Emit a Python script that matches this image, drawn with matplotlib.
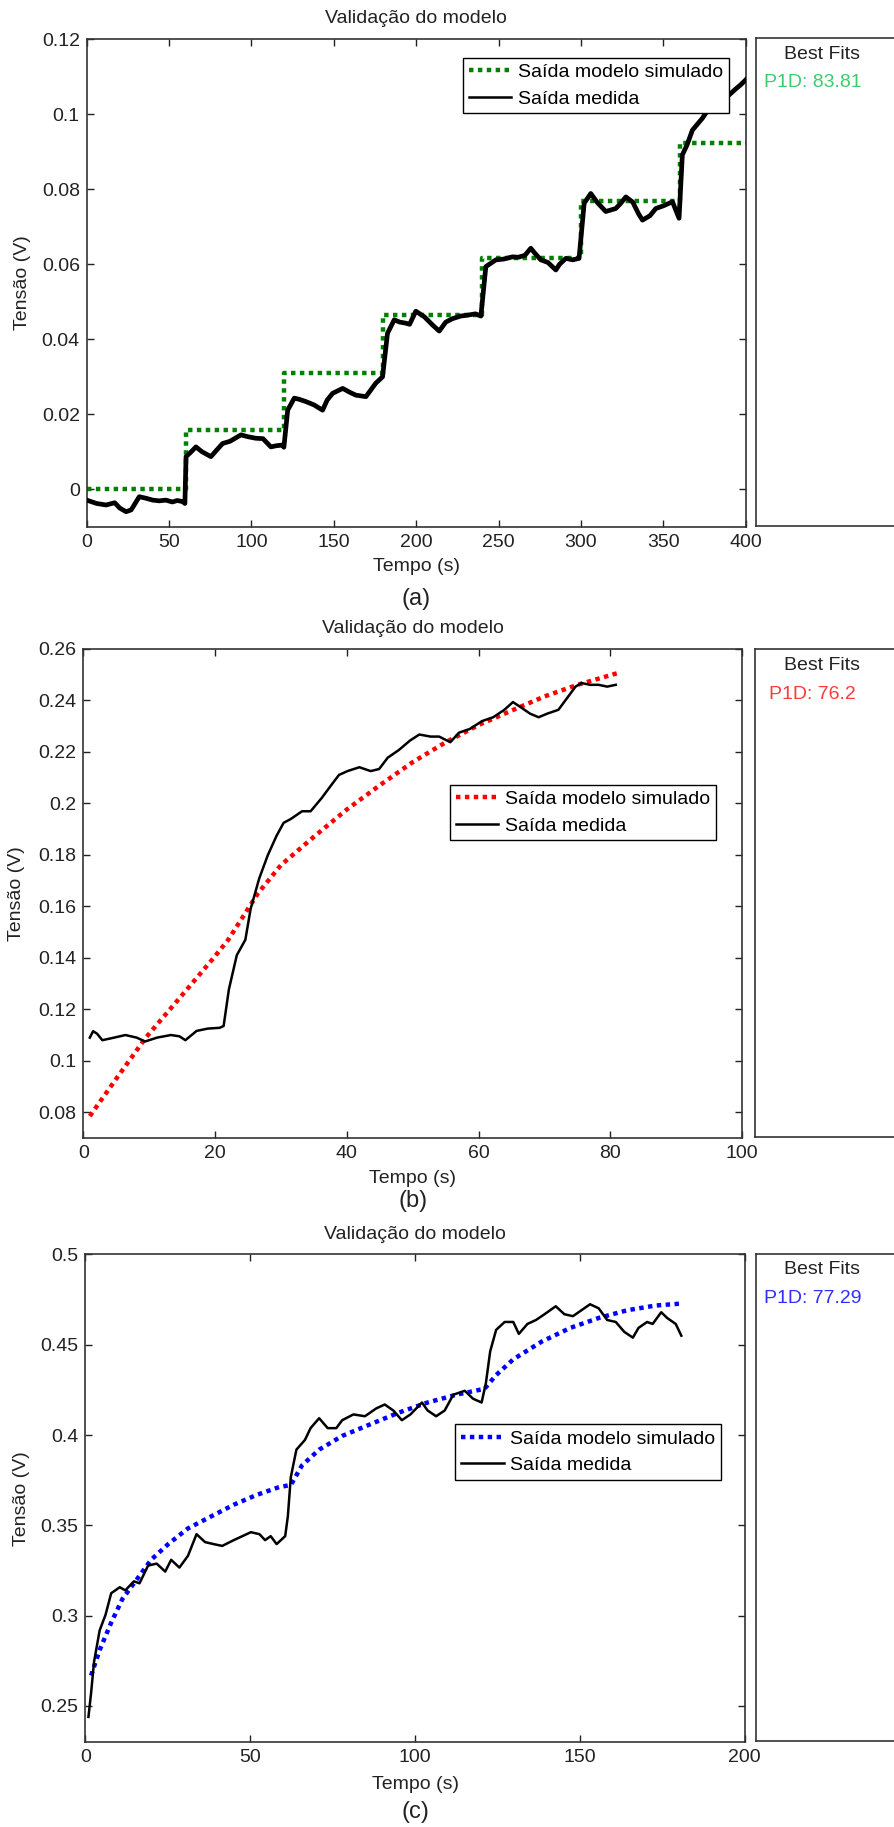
import matplotlib.pyplot as plt

plt.rcParams['font.family'] = ['Liberation Sans', 'DejaVu Sans']
plt.rcParams['font.size'] = 14

# --- (a) degraus de 60 s ---
a_model_t = [0, 60, 120, 180, 240, 300, 360, 400]
a_model_v = [0.0, 0.0158, 0.0311, 0.0465, 0.0618, 0.077, 0.0925, 0.0925]
a_meas_t = [0, 6, 11.7, 17, 20, 23.9, 27, 31.9, 36, 40, 44, 48, 52, 55, 58.2, 59.6,
            60.3, 63, 66.3, 70, 75.4, 79, 82.5, 87, 93.6, 98, 102.7, 107, 111.8, 115, 118.9, 119.7,
            122, 126, 129, 133, 138, 143.2, 146, 149.3, 155.4, 160, 163.4, 169.5, 172, 175.5, 179.6,
            182.6, 186.7, 190, 193.8, 196, 199.8, 205, 210, 214, 218, 222, 227, 232, 236, 239.3,
            242.3, 248.4, 253, 258.5, 262, 266, 269.6, 272, 275.7, 280, 284.8, 287, 290.9, 295, 298.9,
            302, 306, 310, 315.1, 321.2, 324, 327.3, 331.5, 335, 337.4, 342, 345.5, 350, 355.6, 359.6,
            361.6, 364.4, 367.7, 373.8, 377.8, 381.9, 386, 390, 394, 397, 400]
a_meas_v = [-0.0029, -0.0038, -0.0042, -0.0036, -0.0050, -0.0060, -0.0055, -0.0020, -0.0024, -0.0029, -0.0031, -0.0029, -0.0034, -0.0030, -0.0033, -0.0038,
            0.0087, 0.0098, 0.0113, 0.0100, 0.0087, 0.0105, 0.0122, 0.0128, 0.0145, 0.0140, 0.0136, 0.0135, 0.0113, 0.0116, 0.0118, 0.0112,
            0.0211, 0.0243, 0.0240, 0.0234, 0.0225, 0.0211, 0.0238, 0.0256, 0.0269, 0.0258, 0.0251, 0.0247, 0.0262, 0.0283, 0.0300,
            0.0416, 0.0452, 0.0446, 0.0443, 0.0440, 0.0475, 0.0460, 0.0438, 0.0422, 0.0446, 0.0455, 0.0462, 0.0465, 0.0468, 0.0462,
            0.0594, 0.0612, 0.0614, 0.0620, 0.0619, 0.0624, 0.0643, 0.0630, 0.0612, 0.0605, 0.0585, 0.0600, 0.0616, 0.0612, 0.0616,
            0.0763, 0.0789, 0.0765, 0.0741, 0.0749, 0.0762, 0.0780, 0.0766, 0.0735, 0.0718, 0.0730, 0.0749, 0.0756, 0.0767, 0.0723,
            0.0892, 0.0918, 0.0958, 0.0990, 0.1016, 0.1039, 0.1045, 0.1052, 0.1068, 0.1079, 0.1092]

# --- (b) ---
b_model_t = [1, 5, 9.5, 15, 19.8, 22, 26.5, 30, 35, 40, 45, 50, 55, 60, 65, 70, 75, 81]
b_model_v = [0.0785, 0.093, 0.109, 0.1255, 0.140, 0.147, 0.165, 0.176, 0.187, 0.1976, 0.207,
             0.216, 0.2237, 0.2304, 0.236, 0.2415, 0.246, 0.2505]
b_meas_t = [1, 1.5, 2.1, 2.9, 4.7, 6.4, 8.1, 9.4, 11.2, 13.3, 14.6, 15.5, 17.2, 18.9, 20.7,
            21.3, 22.1, 23.3, 24.6, 25.4, 26.7, 28.0, 29.3, 30.4, 31.5, 33.2, 34.5, 36.2, 37.5,
            38.8, 40.1, 41.9, 43.6, 44.9, 46.2, 47.9, 49.6, 51.0, 52.7, 54.0, 55.7, 57.0, 58.7,
            60.5, 62.2, 63.9, 65.2, 66.5, 67.8, 69.1, 70.4, 72.1, 73.4, 74.7, 75.6, 76.9, 78.2,
            79.5, 80.8]
b_meas_v = [0.109, 0.1115, 0.1105, 0.108, 0.109, 0.110, 0.109, 0.1075, 0.109, 0.110, 0.1095, 0.108,
            0.1116, 0.1125, 0.1128,
            0.1135, 0.1277, 0.141, 0.147, 0.159, 0.1708, 0.1798, 0.1872, 0.1924, 0.1939, 0.1969,
            0.1969, 0.2021, 0.2066, 0.211, 0.2125, 0.214, 0.2125, 0.2133, 0.2177, 0.2207, 0.2244,
            0.2267, 0.2259, 0.2259, 0.2237, 0.2274, 0.2289, 0.2319, 0.2334, 0.2363, 0.2393, 0.2371,
            0.2348, 0.2334, 0.2348, 0.2363, 0.2408, 0.2453, 0.2467, 0.246, 0.246, 0.2453, 0.246]

# --- (c) ---
c_model_t = [1.7, 4.3, 7.8, 11.2, 15.6, 19.9, 25.1, 31.1, 38.1, 45.0, 51.9, 58.8, 62.3,
             65.7, 70.9, 77.9, 86.5, 95.2, 103.8, 112.5, 121.1, 124.6, 129.8, 138.4, 147.1,
             155.7, 164.4, 173.0, 180.8]
c_model_v = [0.2668, 0.2809, 0.2961, 0.3092, 0.3201, 0.3309, 0.3396, 0.3483, 0.3549, 0.3614,
             0.3668, 0.3712, 0.3723, 0.3832, 0.3919, 0.3995, 0.406, 0.4125, 0.418, 0.4223,
             0.4256, 0.4332, 0.4419, 0.4517, 0.4593, 0.4648, 0.4691, 0.4717, 0.4728]
c_meas_t = [0.9, 1.7, 2.6, 4.3, 6.1, 7.8, 10.4, 12.1, 14.7, 16.4, 19.0, 21.6, 24.2, 26.0, 28.5,
            31.1, 33.7, 36.3, 38.9, 41.5, 45.0, 47.6, 50.2, 52.8, 54.5, 56.2, 58.0, 60.6, 61.4,
            62.3, 64.0, 66.6, 68.3, 70.9, 73.5, 76.1, 77.9, 81.3, 84.8, 88.2, 90.8, 93.4, 96.0,
            98.6, 102.1, 103.8, 106.4, 109.0, 111.6, 115.1, 117.6, 120.2, 121.5, 122.8, 124.6,
            127.2, 129.8, 131.5, 134.1, 136.7, 139.3, 142.7, 145.3, 147.9, 150.5, 153.1, 155.7,
            158.3, 160.9, 163.5, 166.1, 167.8, 170.4, 172.1, 174.7, 176.5, 179.1, 180.8]
c_meas_v = [0.2439, 0.257, 0.2744, 0.2918, 0.3005, 0.3124, 0.3157, 0.314, 0.319, 0.3179, 0.3277,
            0.3288, 0.3244, 0.3309, 0.3266, 0.3331, 0.3451, 0.3407, 0.3396, 0.3386, 0.3418, 0.344,
            0.3462, 0.3451, 0.3418, 0.344, 0.3396, 0.344, 0.3549, 0.3766, 0.3919, 0.3973, 0.4038,
            0.4093, 0.4038, 0.4038, 0.4082, 0.4114, 0.4104, 0.4147, 0.4169, 0.4136, 0.4082, 0.4114,
            0.418, 0.4136, 0.4104, 0.4136, 0.4223, 0.4245, 0.4201, 0.418, 0.4288, 0.4463, 0.4582,
            0.4626, 0.4626, 0.456, 0.4615, 0.4637, 0.4669, 0.4713, 0.4669, 0.4658, 0.4691, 0.4724,
            0.4702, 0.4637, 0.4626, 0.4571, 0.4539, 0.4593, 0.4626, 0.4615, 0.468, 0.4648, 0.4615,
            0.455]

fit_labels = ['P1D: 83.81', 'P1D: 76.2', 'P1D: 77.29']


def setup_axes(ax, xlim, ylim, xticks, yticks):
    ax.set_xlim(xlim)
    ax.set_ylim(ylim)
    ax.set_xticks(xticks)
    ax.set_yticks(yticks)
    ax.set_xticklabels([f'{v:g}' for v in xticks])
    ax.set_yticklabels([f'{v:g}' for v in yticks])
    ax.tick_params(direction='in', length=5, width=1, pad=5, top=True, right=True,
                   labelsize=14, colors='#222222')
    for s in ax.spines.values():
        s.set_linewidth(1.2)
        s.set_color('#333333')


def add_fits_box(fig, rect, txt_y, fit_y, fit_x, label, color):
    # painel "Best Fits" (cortado na borda direita da figura)
    bx = fig.add_axes(rect)
    bx.set_xticks([])
    bx.set_yticks([])
    for s in bx.spines.values():
        s.set_linewidth(1.2)
        s.set_color('#333333')
    fig.text(0.920, txt_y, 'Best Fits', ha='center', va='center', fontsize=14, color='#222222')
    fig.text(fit_x, fit_y, label, ha='left', va='center', fontsize=14, color=color)


fig = plt.figure(figsize=(8.94, 18.27), dpi=100)

panels = [
    dict(rect=[0.097, 0.7117, 0.737, 0.2667], box=[0.846, 0.712, 0.2, 0.267],
         title_y=0.990, xl_y=0.6897, tag_y=0.6721, yl_x=0.0255, tag='(a)',
         bf_y=0.9704, fit_y=0.9551, fit_x=0.8546, fcol='#3ccc6e',
         legend_anchor=(0.8266, 0.9737)),
    dict(rect=[0.0931, 0.3771, 0.7372, 0.2678], box=[0.845, 0.3777, 0.2, 0.2669],
         title_y=0.656, xl_y=0.3547, tag_y=0.3426, yl_x=0.019, tag='(b)',
         bf_y=0.6357, fit_y=0.6196, fit_x=0.8597, fcol='#ff3b3b',
         legend_anchor=(0.8119, 0.5758)),
    dict(rect=[0.0956, 0.0465, 0.7373, 0.2669], box=[0.846, 0.0472, 0.2, 0.2662],
         title_y=0.3244, xl_y=0.0232, tag_y=0.0082, yl_x=0.024, tag='(c)',
         bf_y=0.305, fit_y=0.2893, fit_x=0.8546, fcol='#3030ff',
         legend_anchor=(0.8177, 0.2257)),
]

series = [
    (a_model_t, a_model_v, a_meas_t, a_meas_v, '#008000', 3.4, 'steps-post',
     (0, 400), (-0.01, 0.12), [0, 50, 100, 150, 200, 250, 300, 350, 400],
     [0, 0.02, 0.04, 0.06, 0.08, 0.1, 0.12]),
    (b_model_t, b_model_v, b_meas_t, b_meas_v, '#ff0000', 1.8, 'default',
     (0, 100), (0.07, 0.26), [0, 20, 40, 60, 80, 100],
     [0.08, 0.1, 0.12, 0.14, 0.16, 0.18, 0.2, 0.22, 0.24, 0.26]),
    (c_model_t, c_model_v, c_meas_t, c_meas_v, '#0000ff', 1.8, 'default',
     (0, 200), (0.23, 0.5), [0, 50, 100, 150, 200],
     [0.25, 0.3, 0.35, 0.4, 0.45, 0.5]),
]

for p, s, fit in zip(panels, series, fit_labels):
    mt, mv, st, sv, mcol, slw, dstyle, xlim, ylim, xt, yt = s
    ax = fig.add_axes(p['rect'])
    ax.plot(mt, mv, color=mcol, lw=3.2, linestyle=(0, (1.0, 1.0)), drawstyle=dstyle,
            dash_capstyle='butt', label='Saída modelo simulado', zorder=2)
    ax.plot(st, sv, color='black', lw=slw, label='Saída medida', zorder=3)
    setup_axes(ax, xlim, ylim, xt, yt)
    leg = ax.legend(loc='upper right', bbox_to_anchor=p['legend_anchor'],
                    bbox_transform=fig.transFigure, fontsize=14, frameon=True, fancybox=False,
                    edgecolor='black', framealpha=1, handlelength=2.2, handletextpad=0.35,
                    labelspacing=0.45, borderpad=0.3)
    leg.get_lines()[1].set_linewidth(1.8)

    cx = p['rect'][0] + p['rect'][2] / 2
    cy = p['rect'][1] + p['rect'][3] / 2
    fig.text(cx, p['title_y'], 'Validação do modelo', ha='center', va='center', fontsize=14, color='#222222')
    fig.text(cx, p['xl_y'], 'Tempo (s)', ha='center', va='center', fontsize=14, color='#222222')
    fig.text(cx, p['tag_y'], p['tag'], ha='center', va='center', fontsize=17, color='#222222')
    fig.text(p['yl_x'], cy, 'Tensão (V)', ha='center', va='center', rotation=90,
             fontsize=14, color='#222222')

    add_fits_box(fig, p['box'], p['bf_y'], p['fit_y'], p['fit_x'], fit, p['fcol'])

plt.savefig('out.png', dpi=100)
